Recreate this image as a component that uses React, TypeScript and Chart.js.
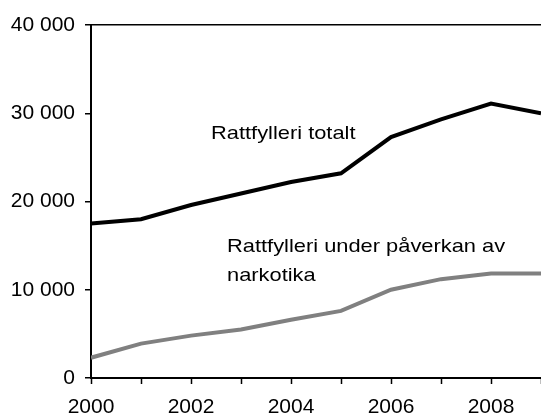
import React, { useEffect, useRef } from 'react';
import { Chart, registerables } from 'chart.js';

Chart.register(...registerables);

const years = [2000, 2001, 2002, 2003, 2004, 2005, 2006, 2007, 2008, 2009];
const totalt = [17500, 18000, 19600, 20900, 22200, 23200, 27300, 29300, 31100, 30000];
const narkotika = [2300, 3900, 4800, 5500, 6600, 7600, 10000, 11200, 11850, 11850];
const yTickValues = [0, 10000, 20000, 30000, 40000];
const xTickLabels = ['2000', '2002', '2004', '2006', '2008'];
const labelTotalt = 'Rattfylleri totalt';
const labelNarkotika = ['Rattfylleri under påverkan av', 'narkotika'];

const FONT = '"Liberation Sans", Arial, sans-serif';

function fmt(v: number): string {
  return String(v).replace(/\B(?=(\d{3})+(?!\d))/g, ' ');
}

const annotations = {
  id: 'annotations',
  afterDatasetsDraw(chart: any) {
    const { ctx, scales } = chart;
    const x = scales.x;
    const y = scales.y;
    const sx = 1.15;
    const draw = (t: string, px: number, py: number) => {
      ctx.save();
      ctx.translate(px, py);
      ctx.scale(sx, 1);
      ctx.fillText(t, 0, 0);
      ctx.restore();
    };
    ctx.save();
    ctx.font = `19px ${FONT}`;
    ctx.fillStyle = '#000';
    ctx.textAlign = 'left';
    ctx.textBaseline = 'alphabetic';
    draw(labelTotalt, x.getPixelForValue(2002.4), y.getPixelForValue(27100));
    const lx = x.getPixelForValue(2002.72);
    const ly = y.getPixelForValue(14300);
    labelNarkotika.forEach((t, i) => draw(t, lx, ly + i * 29));
    ctx.restore();
  },
};

export default function App() {
  const ref = useRef<HTMLCanvasElement | null>(null);
  useEffect(() => {
    document.body.style.margin = '0';
    const canvas = ref.current!;
    const chart = new Chart(canvas, {
      type: 'line',
      data: {
        datasets: [
          {
            label: labelTotalt,
            data: years.map((yr, i) => ({ x: yr, y: totalt[i] })),
            borderColor: '#000000',
            borderWidth: 4,
            pointRadius: 0,
            tension: 0,
          },
          {
            label: labelNarkotika.join(' '),
            data: years.map((yr, i) => ({ x: yr, y: narkotika[i] })),
            borderColor: '#808080',
            borderWidth: 4,
            pointRadius: 0,
            tension: 0,
          },
        ],
      },
      options: {
        responsive: false,
        animation: false,
        devicePixelRatio: 1,
        layout: { padding: { top: 25, right: 0, left: 0, bottom: 0 } },
        plugins: { legend: { display: false }, tooltip: { enabled: false } },
        scales: {
          x: {
            type: 'linear',
            min: years[0],
            max: years[years.length - 1],
            afterBuildTicks: (s: any) => {
              s.ticks = years.map((v) => ({ value: v }));
            },
            afterFit: (s: any) => {
              s.height = 41;
              s.paddingLeft = 0;
              s.paddingRight = 0;
            },
            ticks: {
              autoSkip: false,
              maxRotation: 0,
              padding: 11,
              color: '#000',
              font: { family: FONT, size: 21 },
              callback: (v: any) => (xTickLabels.includes(String(v)) ? String(v) : ''),
            },
            grid: {
              drawOnChartArea: false,
              drawTicks: true,
              tickLength: 6,
              tickColor: '#000',
              tickWidth: 1.5,
            },
            border: { display: true, color: '#000', width: 2 },
          },
          y: {
            type: 'linear',
            min: 0,
            max: 40000,
            afterBuildTicks: (s: any) => {
              s.ticks = yTickValues.map((v) => ({ value: v }));
            },
            afterFit: (s: any) => {
              s.width = 91;
            },
            ticks: {
              padding: 10,
              color: '#000',
              font: { family: FONT, size: 21 },
              callback: (v: any) => fmt(Number(v)),
            },
            grid: {
              drawOnChartArea: true,
              drawTicks: true,
              tickLength: 6,
              tickColor: '#000',
              tickWidth: 1.5,
              lineWidth: 1.5,
              color: (c: any) => (c.tick && c.tick.value === 40000 ? '#000' : 'rgba(0,0,0,0)'),
            },
            border: { display: true, color: '#000', width: 2 },
          },
        },
      },
      plugins: [annotations],
    });
    return () => chart.destroy();
  }, []);
  return <canvas ref={ref} width={541} height={419} style={{ display: 'block' }} />;
}
